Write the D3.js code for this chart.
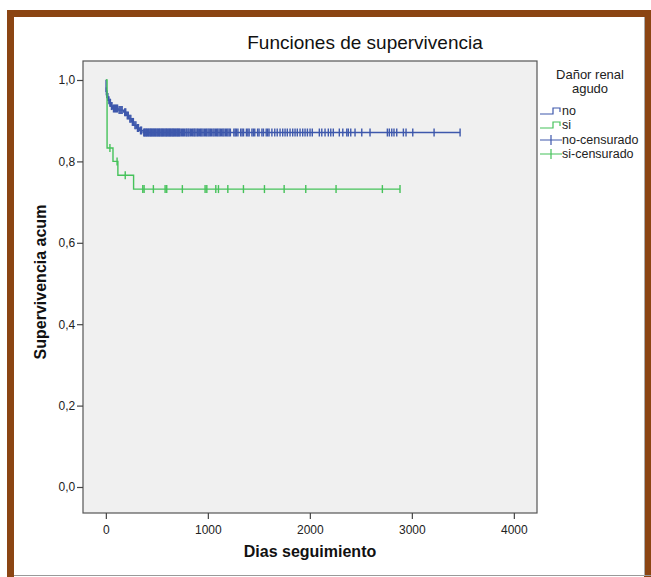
<!DOCTYPE html>
<html><head><meta charset="utf-8">
<script src="https://cdn.jsdelivr.net/npm/d3@7"></script>
<style>body{margin:0;background:#fff}svg{display:block;font-family:"Liberation Sans",Arial,sans-serif}</style>
</head><body><svg id="c" width="651" height="577"></svg>
<script>
// ---- data ----
const xTicks = [0, 1000, 2000, 3000, 4000];
const yTicks = [0, 0.2, 0.4, 0.6, 0.8, 1.0];
const groupNames = ["no", "si"];
const legendLabels = ["no", "si", "no-censurado", "si-censurado"];

// "no" group: event times and survival after each event
const noTimes = [0, 2, 8, 15, 25, 35, 50, 65, 120, 175, 200, 225, 250, 275, 300, 330, 365];
const noSurv  = [1.0, 0.972, 0.965, 0.958, 0.950, 0.944, 0.936, 0.930, 0.926, 0.921, 0.913, 0.905, 0.897, 0.889, 0.882, 0.876, 0.871];
const noCensored = [5, 10, 20, 30, 40, 45, 55, 60, 75, 85, 95, 105, 115, 130, 140, 150, 160, 185, 195, 210, 220, 235, 245, 260, 270, 285, 295, 310, 320, 340, 350,
  372, 379, 386, 395, 401, 409, 418, 424, 433, 440, 447, 455, 463, 470, 478, 486, 493, 502, 509, 517, 525, 531, 540, 548, 555, 563, 571, 579, 588, 594,
  602, 611, 618, 626, 633, 641, 650, 657, 664, 672, 681, 689, 697, 704, 712, 720, 728,
  740, 752, 761, 773, 786, 794, 806, 815, 828, 840, 851, 863, 872, 884, 897, 906, 919, 930, 941, 953, 966, 978, 989,
  1002, 1013, 1025, 1036, 1050, 1061, 1074, 1086, 1097, 1110, 1122, 1135, 1147, 1158, 1172, 1184, 1196, 1209, 1221,
  1255, 1268, 1280, 1295, 1322, 1336, 1350, 1378, 1392, 1405, 1432, 1446, 1460, 1488, 1502, 1530, 1545, 1572, 1586, 1600, 1628, 1656, 1680,
  1708, 1734, 1757, 1779, 1806, 1832, 1855, 1877, 1904, 1930, 1953, 1976, 2002, 2024,
  2093, 2117, 2149, 2181, 2205, 2230, 2289, 2323, 2362, 2377, 2401, 2443, 2509, 2590,
  2760, 2779, 2803, 2825, 2852, 2917, 2943, 3009, 3218, 3473];

// "si" group
const siTimes = [0, 12, 70, 118, 272];
const siSurv  = [1.0, 0.833, 0.800, 0.766, 0.732];
const siCensored = [40, 110, 190, 362, 375, 466, 581, 597, 750, 973, 990, 1078, 1104, 1196, 1349, 1555, 1748, 1960, 2257, 2711, 2884];

const colors = {no: "#3E58AC", si: "#45C25A"};

// ---- layout ----
const svg = d3.select("#c");
const P = {l: 83, r: 537, t: 61, b: 513};

// frame
svg.append("rect").attr("x", 7).attr("y", 10).attr("width", 644).attr("height", 567).attr("fill", "#8B4513");
svg.append("rect").attr("x", 14).attr("y", 17).attr("width", 630).attr("height", 560).attr("fill", "#fff");
svg.append("line").attr("x1", 14).attr("x2", 651).attr("y1", 575.5).attr("y2", 575.5).attr("stroke", "#999");
svg.append("line").attr("x1", 644.5).attr("x2", 644.5).attr("y1", 17).attr("y2", 576).attr("stroke", "#aaa");

const x = d3.scaleLinear().domain([-224, 4227]).range([P.l, P.r]);
// y(1)=80, y(0)=487
const y = d3.scaleLinear().domain([(487 - P.t) / 407, (487 - P.b) / 407]).range([P.t, P.b]);

svg.append("rect").attr("x", P.l).attr("y", P.t).attr("width", P.r - P.l).attr("height", P.b - P.t)
  .attr("fill", "#F0F0F0").attr("stroke", "#555").attr("stroke-width", 1.2);

// axes
const gx = svg.append("g").attr("transform", `translate(0,${P.b})`)
  .call(d3.axisBottom(x).tickValues(xTicks).tickSize(6).tickSizeOuter(0).tickFormat(d3.format("d")));
const gy = svg.append("g").attr("transform", `translate(${P.l},0)`)
  .call(d3.axisLeft(y).tickValues(yTicks).tickSize(6).tickSizeOuter(0).tickFormat(d => d3.format(".1f")(d).replace(".", ",")));
[gx, gy].forEach(g => {
  g.select(".domain").remove();
  g.selectAll("line").attr("stroke", "#444").attr("stroke-width", 1.2);
  g.selectAll("text").attr("fill", "#222").style("font-size", "12px").style("font-family", "Liberation Sans, Arial, sans-serif");
});
gx.selectAll("text").attr("dy", "1.0em");
gy.selectAll("text").attr("dx", "0.1em");

// curves
function survAt(times, surv, t) {
  let s = surv[0];
  for (let i = 0; i < times.length; i++) if (times[i] <= t) s = surv[i];
  return s;
}
const groups = [
  {name: "no", times: noTimes, surv: noSurv, cens: noCensored},
  {name: "si", times: siTimes, surv: siSurv, cens: siCensored}
];
const line = d3.line().x(d => x(d[0])).y(d => y(d[1])).curve(d3.curveStepAfter);
groups.forEach(g => {
  const last = d3.max(g.cens);
  const pts = g.times.map((t, i) => [t, g.surv[i]]);
  pts.push([last, g.surv[g.surv.length - 1]]);
  svg.append("path").datum(pts).attr("d", line).attr("fill", "none")
    .attr("stroke", colors[g.name]).attr("stroke-width", 1.4);
  svg.append("g").selectAll("line").data(g.cens).join("line")
    .attr("x1", d => x(d)).attr("x2", d => x(d))
    .attr("y1", d => y(survAt(g.times, g.surv, d)) - 4)
    .attr("y2", d => y(survAt(g.times, g.surv, d)) + 4)
    .attr("stroke", colors[g.name]).attr("stroke-width", 1.4);
});

// title
svg.append("text").attr("x", 365).attr("y", 49).attr("text-anchor", "middle")
  .style("font-size", "19px").attr("fill", "#111").text("Funciones de supervivencia");
// axis titles
svg.append("text").attr("x", 310).attr("y", 557).attr("text-anchor", "middle")
  .style("font-size", "16px").style("font-weight", "bold").attr("fill", "#111").text("Dias seguimiento");
svg.append("text").attr("transform", "translate(46,282) rotate(-90)").attr("text-anchor", "middle")
  .style("font-size", "16px").style("font-weight", "bold").attr("fill", "#111").text("Supervivencia acum");

// legend
const lg = svg.append("g");
lg.append("text").attr("x", 590).attr("y", 79).attr("text-anchor", "middle").style("font-size", "13px").attr("fill", "#222").text("Dañor renal");
lg.append("text").attr("x", 590).attr("y", 93).attr("text-anchor", "middle").style("font-size", "13px").attr("fill", "#222").text("agudo");
const ly = [111, 125, 140, 154];
legendLabels.forEach((lab, i) => {
  const c = colors[groupNames[i % 2]];
  const yy = ly[i];
  if (i < 2) {
    lg.append("path").attr("d", `M540,${yy + 3}H553V${yy - 3}H560V${yy + 1}`).attr("fill", "none").attr("stroke", c).attr("stroke-width", 1.2);
  } else {
    lg.append("path").attr("d", `M540,${yy}H562M551,${yy - 5}V${yy + 5}`).attr("fill", "none").attr("stroke", c).attr("stroke-width", 1.2);
  }
  lg.append("text").attr("x", 562).attr("y", yy + 4).style("font-size", "12.5px").attr("fill", "#222").text(lab);
});
</script></body></html>
